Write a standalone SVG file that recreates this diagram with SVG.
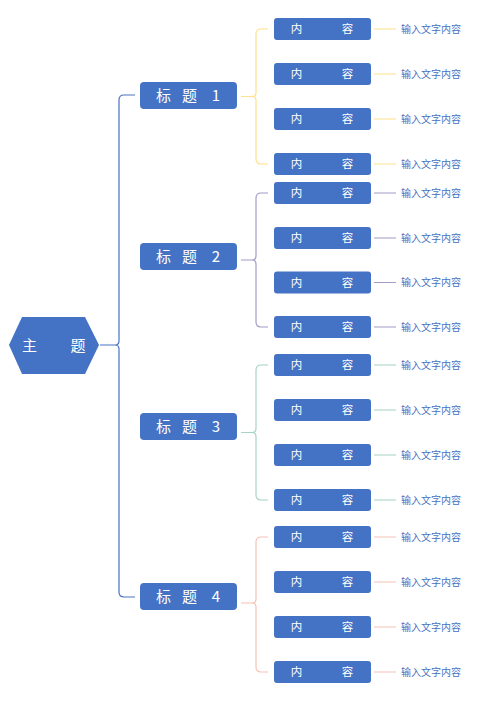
<svg xmlns="http://www.w3.org/2000/svg" width="500" height="706" viewBox="0 0 500 706">
<style>
.box{fill:#4472C4;}
.wt{fill:#FFFFFF;font-family:"Noto Sans CJK SC","Noto Sans",sans-serif;text-anchor:middle;}
.tt{font-size:15px;}
.ct{font-size:11.5px;}
.lbl{fill:#4A6FBF;font-family:"Noto Sans CJK SC","Noto Sans",sans-serif;font-size:10px;}
.ln{fill:none;stroke-width:1.2;}
.main{stroke:#4A72C4;}
.g1{stroke:#FFE08C;}
.g2{stroke:#A29CC8;}
.g3{stroke:#A8D4C2;}
.g4{stroke:#F6C2B6;}
</style>
<rect width="500" height="706" fill="#FFFFFF"/>
<g id="connectors">
<path class="ln main" d="M100,345 H115 M135,95 H124 Q119,95 119,100 V341 Q119,345 115,345 Q119,345 119,349 V592 Q119,597 124,597 H135"/>
<path class="ln g1" d="M241,96.5 H252 M268,29 H261 Q256,29 256,34 V92.5 Q256,96.5 252,96.5 Q256,96.5 256,100.5 V159 Q256,164 261,164 H268"/>
<path class="ln g1" d="M374,29 H396 M374,74 H396 M374,119 H396 M374,164 H396"/>
<path class="ln g2" d="M241,260 H252 M268,193 H261 Q256,193 256,198 V256 Q256,260 252,260 Q256,260 256,264 V322 Q256,327 261,327 H268"/>
<path class="ln g2" d="M374,193 H396 M374,238 H396 M374,282.5 H396 M374,327 H396"/>
<path class="ln g3" d="M241,432.5 H252 M268,365 H261 Q256,365 256,370 V428.5 Q256,432.5 252,432.5 Q256,432.5 256,436.5 V495 Q256,500 261,500 H268"/>
<path class="ln g3" d="M374,365 H396 M374,410 H396 M374,455 H396 M374,500 H396"/>
<path class="ln g4" d="M241,603 H252 M268,537 H261 Q256,537 256,542 V599 Q256,603 252,603 Q256,603 256,607 V667 Q256,672 261,672 H268"/>
<path class="ln g4" d="M374,537 H396 M374,582 H396 M374,627 H396 M374,672 H396"/>
</g>
<g id="topic">
<polygon class="box" points="9,345 22,317 85,317 99,345 85,374 22,374"/>
<text class="wt tt" x="29.5" y="350.5">主</text>
<text class="wt tt" x="78" y="350.5">题</text>
</g>
<g id="title1">
<rect class="box" x="140" y="82" width="97" height="27" rx="4"/>
<text class="wt tt" x="163.5" y="100.5">标</text><text class="wt tt" x="189.5" y="100.5">题</text><text class="wt tt" x="216" y="100.5">1</text>
</g>
<g id="title2">
<rect class="box" x="140" y="243" width="97" height="27" rx="4"/>
<text class="wt tt" x="163.5" y="261.5">标</text><text class="wt tt" x="189.5" y="261.5">题</text><text class="wt tt" x="216" y="261.5">2</text>
</g>
<g id="title3">
<rect class="box" x="140" y="413" width="97" height="27" rx="4"/>
<text class="wt tt" x="163.5" y="431.5">标</text><text class="wt tt" x="189.5" y="431.5">题</text><text class="wt tt" x="216" y="431.5">3</text>
</g>
<g id="title4">
<rect class="box" x="140" y="583" width="97" height="27" rx="4"/>
<text class="wt tt" x="163.5" y="601.5">标</text><text class="wt tt" x="189.5" y="601.5">题</text><text class="wt tt" x="216" y="601.5">4</text>
</g>
<g id="c1-1"><rect class="box" x="274" y="18" width="97" height="22" rx="3"/><text class="wt ct" x="296.5" y="33">内</text><text class="wt ct" x="347.5" y="33">容</text><text class="lbl" x="401" y="32.5">输入文字内容</text></g>
<g id="c1-2"><rect class="box" x="274" y="63" width="97" height="22" rx="3"/><text class="wt ct" x="296.5" y="78">内</text><text class="wt ct" x="347.5" y="78">容</text><text class="lbl" x="401" y="77.5">输入文字内容</text></g>
<g id="c1-3"><rect class="box" x="274" y="108" width="97" height="22" rx="3"/><text class="wt ct" x="296.5" y="123">内</text><text class="wt ct" x="347.5" y="123">容</text><text class="lbl" x="401" y="122.5">输入文字内容</text></g>
<g id="c1-4"><rect class="box" x="274" y="153" width="97" height="22" rx="3"/><text class="wt ct" x="296.5" y="168">内</text><text class="wt ct" x="347.5" y="168">容</text><text class="lbl" x="401" y="167.5">输入文字内容</text></g>
<g id="c2-1"><rect class="box" x="274" y="182" width="97" height="22" rx="3"/><text class="wt ct" x="296.5" y="197">内</text><text class="wt ct" x="347.5" y="197">容</text><text class="lbl" x="401" y="196.5">输入文字内容</text></g>
<g id="c2-2"><rect class="box" x="274" y="227" width="97" height="22" rx="3"/><text class="wt ct" x="296.5" y="242">内</text><text class="wt ct" x="347.5" y="242">容</text><text class="lbl" x="401" y="241.5">输入文字内容</text></g>
<g id="c2-3"><rect class="box" x="274" y="271.5" width="97" height="22" rx="3"/><text class="wt ct" x="296.5" y="286.5">内</text><text class="wt ct" x="347.5" y="286.5">容</text><text class="lbl" x="401" y="286">输入文字内容</text></g>
<g id="c2-4"><rect class="box" x="274" y="316" width="97" height="22" rx="3"/><text class="wt ct" x="296.5" y="331">内</text><text class="wt ct" x="347.5" y="331">容</text><text class="lbl" x="401" y="330.5">输入文字内容</text></g>
<g id="c3-1"><rect class="box" x="274" y="354" width="97" height="22" rx="3"/><text class="wt ct" x="296.5" y="369">内</text><text class="wt ct" x="347.5" y="369">容</text><text class="lbl" x="401" y="368.5">输入文字内容</text></g>
<g id="c3-2"><rect class="box" x="274" y="399" width="97" height="22" rx="3"/><text class="wt ct" x="296.5" y="414">内</text><text class="wt ct" x="347.5" y="414">容</text><text class="lbl" x="401" y="413.5">输入文字内容</text></g>
<g id="c3-3"><rect class="box" x="274" y="444" width="97" height="22" rx="3"/><text class="wt ct" x="296.5" y="459">内</text><text class="wt ct" x="347.5" y="459">容</text><text class="lbl" x="401" y="458.5">输入文字内容</text></g>
<g id="c3-4"><rect class="box" x="274" y="489" width="97" height="22" rx="3"/><text class="wt ct" x="296.5" y="504">内</text><text class="wt ct" x="347.5" y="504">容</text><text class="lbl" x="401" y="503.5">输入文字内容</text></g>
<g id="c4-1"><rect class="box" x="274" y="526" width="97" height="22" rx="3"/><text class="wt ct" x="296.5" y="541">内</text><text class="wt ct" x="347.5" y="541">容</text><text class="lbl" x="401" y="540.5">输入文字内容</text></g>
<g id="c4-2"><rect class="box" x="274" y="571" width="97" height="22" rx="3"/><text class="wt ct" x="296.5" y="586">内</text><text class="wt ct" x="347.5" y="586">容</text><text class="lbl" x="401" y="585.5">输入文字内容</text></g>
<g id="c4-3"><rect class="box" x="274" y="616" width="97" height="22" rx="3"/><text class="wt ct" x="296.5" y="631">内</text><text class="wt ct" x="347.5" y="631">容</text><text class="lbl" x="401" y="630.5">输入文字内容</text></g>
<g id="c4-4"><rect class="box" x="274" y="661" width="97" height="22" rx="3"/><text class="wt ct" x="296.5" y="676">内</text><text class="wt ct" x="347.5" y="676">容</text><text class="lbl" x="401" y="675.5">输入文字内容</text></g>
</svg>
